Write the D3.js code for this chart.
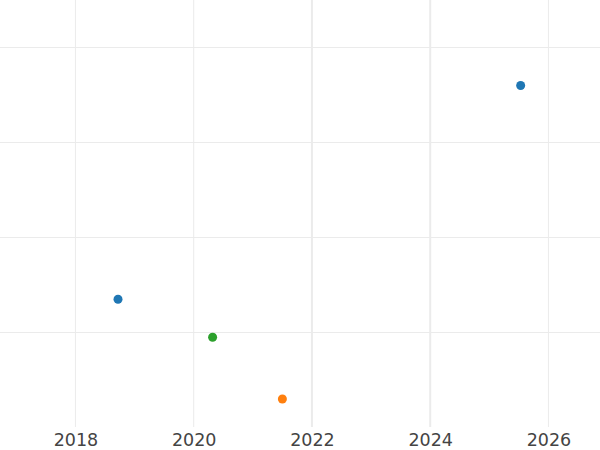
<!DOCTYPE html>
<html><head><meta charset="utf-8">
<script src="https://cdn.jsdelivr.net/npm/d3@7"></script>
<style>html,body{margin:0;padding:0;background:#fff;}svg{display:block;}</style>
</head><body>
<svg id="chart" width="600" height="450"></svg>
<script>
const years = [2018.72, 2020.32, 2021.50, 2025.53];
const values = [135, 95, 30, 360];
const groups = ["A", "C", "B", "A"];
const groupNames = ["A", "B", "C"];
const groupColors = ["#1f77b4", "#ff7f0e", "#2ca02c"];
const xTicks = [2018, 2020, 2022, 2024, 2026];
const yTicks = [100, 200, 300, 400];

const W = 600, H = 450;
const svg = d3.select("#chart");
const x = d3.scaleLinear().domain([2016.724, 2026.872]).range([0, W]);
const y = d3.scaleLinear().domain([0, 450]).range([427.5, 0]);
const color = d3.scaleOrdinal().domain(groupNames).range(groupColors);

svg.append("g").selectAll("line").data(yTicks).join("line")
  .attr("x1", 0).attr("x2", W)
  .attr("y1", d => y(d)).attr("y2", d => y(d))
  .attr("stroke", "#ebebeb").attr("stroke-width", 1);

svg.append("g").selectAll("line").data(xTicks).join("line")
  .attr("x1", d => x(d)).attr("x2", d => x(d))
  .attr("y1", 0).attr("y2", 427)
  .attr("stroke", "#ebebeb")
  .attr("stroke-width", (d, i) => (i === 2 || i === 3) ? 2 : 1);

const xAxis = d3.axisBottom(x).tickValues(xTicks).tickFormat(d3.format("d")).tickSize(0).tickPadding(0);
const ax = svg.append("g").attr("transform", "translate(0,433.5)").call(xAxis);
ax.select(".domain").remove();
ax.selectAll("text").attr("font-family", "DejaVu Sans, sans-serif").attr("font-size", 17.5).attr("fill", "#444").attr("dy", "0.71em");

svg.append("g").selectAll("circle").data(years).join("circle")
  .attr("cx", d => x(d))
  .attr("cy", (d, i) => y(values[i]))
  .attr("r", 4.5)
  .attr("fill", (d, i) => color(groups[i]));
</script>
</body></html>
